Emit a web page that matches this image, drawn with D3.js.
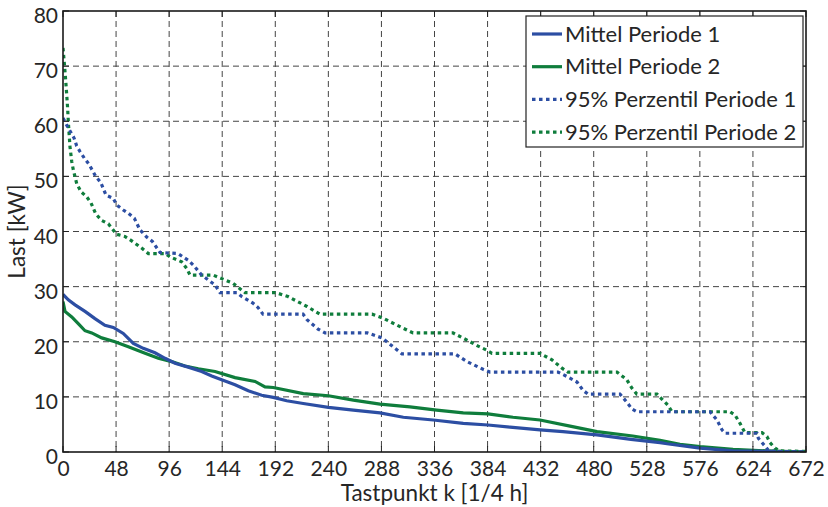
<!DOCTYPE html>
<html><head><meta charset="utf-8">
<script src="https://cdn.jsdelivr.net/npm/d3@7"></script>
<style>
html,body{margin:0;padding:0;background:#fff;}
text{font-family:Lato, "Open Sans", sans-serif;fill:#262626;}
</style></head>
<body><svg id="chart" width="828" height="507"></svg>
<script>
// ---- data ----
const xTicks = [0,48,96,144,192,240,288,336,384,432,480,528,576,624,672];
const yTicks = [0,10,20,30,40,50,60,70,80];
const seriesNames = ["Mittel Periode 1","Mittel Periode 2","95% Perzentil Periode 1","95% Perzentil Periode 2"];

const meanP1 = [[0,28.6],[4.8,27.6],[10.9,26.7],[19.9,25.5],[28.9,24.2],[37.9,23.0],[45.5,22.6],[54.5,21.5],[63.6,19.7],[72.6,18.8],[83.2,18.0],[92.3,17.0],[101.3,16.1],[113.3,15.4],[125.4,14.6],[134.5,13.8],[143.5,13.1],[155.6,12.2],[167.6,11.1],[179.7,10.3],[190.2,9.9],[202.3,9.3],[217.3,8.8],[240,8.1],[262.6,7.6],[286.7,7.1],[307.8,6.3],[334.9,5.8],[362,5.2],[384.4,4.9],[404.3,4.5],[431.5,4.0],[452.2,3.7],[483,3.1],[513.7,2.3],[540,1.7],[546.3,1.5],[576.2,0.7],[606,0.2],[636.7,0.1],[672,0.0]];

const meanP2 = [[0,27.3],[1.8,25.5],[7.9,24.5],[13.8,23.3],[19.9,22.0],[26,21.6],[35,20.7],[47,20.0],[59.1,19.1],[74.2,17.9],[86.2,17.0],[98.3,16.4],[110.3,15.6],[122.4,15.1],[137.5,14.6],[155.6,13.5],[173.7,12.8],[182.7,11.8],[190.2,11.7],[217.3,10.6],[240,10.2],[262.6,9.4],[286.7,8.7],[313.8,8.2],[338,7.6],[362,7.1],[384.4,6.9],[407,6.3],[431.4,5.8],[458.6,4.7],[483,3.7],[515.3,2.9],[540,2.1],[558,1.4],[576.2,1.0],[606,0.5],[636.7,0.2],[672,0.0]];

const p95P1 = [[0,60.6],[3.3,59.3],[9.9,57],[12.4,55.5],[15.4,54.5],[19.3,53.3],[23.5,52.2],[29.6,50],[34.1,48.9],[38.9,46.6],[45.5,46],[48.6,44.8],[54.5,43.9],[59.1,43.3],[64.5,42.4],[69.6,40.3],[75.7,39],[80.8,38.2],[87.7,36.2],[104,36.0],[113.1,34.8],[117.9,33.9],[125.4,32.1],[137.5,30.3],[142,28.9],[157.4,28.9],[161.6,28.2],[171.8,27],[176.4,26.2],[180.9,25],[217.1,25],[220.7,24],[230.6,22.3],[237,21.6],[275.4,21.6],[288.5,20.7],[298.5,19.1],[306.6,17.8],[354.5,17.8],[365.4,16.4],[379.9,15],[386.2,14.5],[447.7,14.5],[455.8,13.7],[464.9,12.7],[470.3,11.2],[474.8,10.5],[503.8,10.5],[510.1,9.0],[514.6,7.8],[519.1,7.3],[585.2,7.3],[591.5,5.8],[596.1,4.0],[598.8,3.4],[627.7,3.4],[628.9,2.5],[633.1,1.5],[637.6,0.4],[644,0.1],[672,0.0]];

const p95P2 = [[0,73.3],[1.2,70.5],[2.4,67.5],[3.3,65],[4.2,62.3],[4.8,60],[5.4,58.1],[6.3,55.4],[7.9,52.7],[9.3,51.2],[12.4,48.7],[16.3,47.2],[21.4,46.3],[25.3,45.2],[29.6,43.2],[35,42],[41,41.4],[48.5,39.5],[56,39.1],[62.1,38.3],[71.1,37],[77.2,36],[92.3,36],[96.8,35.4],[107.3,34.5],[111.9,33.3],[114.9,32.1],[135.7,32.1],[153.8,30.6],[164.6,28.9],[192.6,28.9],[203.5,28.2],[220.7,26.4],[232.4,25],[279.5,25],[289.4,24.3],[302.1,23],[316.6,21.6],[352.7,21.6],[365.4,20.3],[375.5,19.2],[383,18.5],[388,17.9],[431.4,17.9],[442.3,16.7],[451.3,15.2],[456.7,14.5],[501,14.5],[510,13.1],[514.5,11.6],[519,10.5],[537.2,10.5],[541.6,9.6],[547,8.5],[550.8,7.3],[603.3,7.3],[607.8,6.7],[612.3,5.2],[616.8,3.5],[632.2,3.5],[636.7,2.8],[639.4,1.7],[643.9,0.7],[648.4,0.2],[672,0.1]];

const seriesData = [meanP1, meanP2, p95P1, p95P2];
const seriesColors = ["#2c4ea3","#0f7d3c","#2c4ea3","#0f7d3c"];
const seriesDash = [null, null, "3.5,3.5", "3.5,3.5"];

// ---- layout ----
const svg = d3.select("#chart");
const m = {l:63, t:11, r:22, b:55};
const W = 828 - m.l - m.r, H = 507 - m.t - m.b;
const x = d3.scaleLinear().domain([0,672]).range([0,W]);
const y = d3.scaleLinear().domain([0,80]).range([H,0]);
const g = svg.append("g").attr("transform",`translate(${m.l},${m.t})`);

// grid
g.append("g").selectAll("line").data(xTicks.slice(1,-1)).join("line")
  .attr("x1",d=>x(d)).attr("x2",d=>x(d)).attr("y1",0).attr("y2",H)
  .attr("stroke","#444").attr("stroke-width",1).attr("stroke-dasharray","6,4");
g.append("g").selectAll("line").data(yTicks.slice(1,-1)).join("line")
  .attr("y1",d=>y(d)).attr("y2",d=>y(d)).attr("x1",0).attr("x2",W)
  .attr("stroke","#444").attr("stroke-width",1).attr("stroke-dasharray","6,4");

// lines
svg.append("defs").append("clipPath").attr("id","clip").append("rect")
  .attr("x",0).attr("y",-2).attr("width",W).attr("height",H+2);
const line = d3.line().x(d=>x(d[0])).y(d=>y(d[1]));
const order = [1,0,3,2];
order.forEach(i=>{
  g.append("path").attr("d",line(seriesData[i])).attr("fill","none")
   .attr("clip-path","url(#clip)")
   .attr("stroke",seriesColors[i]).attr("stroke-width",3.2)
   .attr("stroke-dasharray",seriesDash[i]);
});

// axes
const xa = g.append("g").attr("transform",`translate(0,${H})`)
  .call(d3.axisBottom(x).tickValues(xTicks).tickSize(0).tickPadding(8).tickFormat(d3.format("d")));
const ya = g.append("g")
  .call(d3.axisLeft(y).tickValues(yTicks).tickSize(0).tickPadding(5).tickFormat(d3.format("d")));
[xa,ya].forEach(a=>{a.select(".domain").remove(); a.selectAll("text").attr("font-size",21).attr("fill","#262626").style("font-family","Lato, sans-serif");});
ya.selectAll("text").attr("dy","0.55em");
xa.selectAll("text").attr("dy","0.75em");

// inner ticks
const tk = g.append("g").attr("stroke","#222").attr("stroke-width",1);
tk.selectAll(".tt").data(xTicks).join("line").attr("x1",d=>x(d)).attr("x2",d=>x(d)).attr("y1",0).attr("y2",6);
tk.selectAll(".tb").data(xTicks).join("line").attr("x1",d=>x(d)).attr("x2",d=>x(d)).attr("y1",H).attr("y2",H-6);
tk.selectAll(".tr").data(yTicks).join("line").attr("y1",d=>y(d)).attr("y2",d=>y(d)).attr("x1",W).attr("x2",W-6);
tk.selectAll(".tl").data(yTicks).join("line").attr("y1",d=>y(d)).attr("y2",d=>y(d)).attr("x1",0).attr("x2",6);

// box
g.append("rect").attr("x",0).attr("y",0).attr("width",W).attr("height",H)
  .attr("fill","none").attr("stroke","#1a1a1a").attr("stroke-width",1.6);

// axis titles
svg.append("text").attr("x",m.l+W/2).attr("y",501).attr("text-anchor","middle")
  .attr("font-size",22.5).text("Tastpunkt k [1/4 h]");
svg.append("text").attr("transform",`translate(25,${m.t+H/2}) rotate(-90)`)
  .attr("text-anchor","middle").attr("font-size",22.5).text("Last [kW]");

// legend
const lg = svg.append("g").attr("transform","translate(526,16)");
lg.append("rect").attr("width",277).attr("height",131).attr("fill","#fff")
  .attr("stroke","#222").attr("stroke-width",1.2);
seriesNames.forEach((n,i)=>{
  const cy = 18 + i*32.7;
  lg.append("line").attr("x1",6).attr("x2",36).attr("y1",cy).attr("y2",cy)
    .attr("stroke",seriesColors[i]).attr("stroke-width",3.2).attr("stroke-dasharray",seriesDash[i]);
  lg.append("text").attr("x",39).attr("y",cy).attr("dy","0.35em").attr("font-size",22).text(n);
});
</script></body></html>
